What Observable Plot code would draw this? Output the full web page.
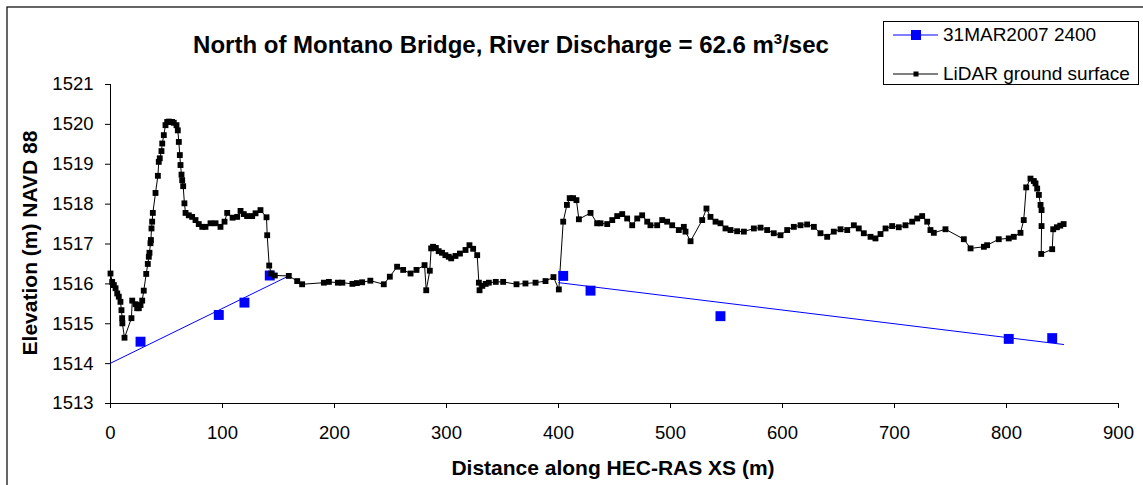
<!DOCTYPE html>
<html>
<head>
<meta charset="utf-8">
<script src="https://cdn.jsdelivr.net/npm/d3@7"></script>
<script src="https://cdn.jsdelivr.net/npm/@observablehq/plot@0.6"></script>
<style>
  html, body { margin: 0; padding: 0; background: #fff; overflow: hidden; }
  #chart svg { display: block; font-family: "Liberation Sans", Arial, sans-serif; }
</style>
</head>
<body>
<div id="chart"></div>
<script>
// ---- Data ----
const titleText = "North of Montano Bridge, River Discharge = 62.6 m";
const xLabel = "Distance along HEC-RAS XS (m)";
const yLabel = "Elevation (m) NAVD 88";
const seriesNames = ["31MAR2007 2400", "LiDAR ground surface"];
const xTicks = [0, 100, 200, 300, 400, 500, 600, 700, 800, 900];
const yTicks = [1513, 1514, 1515, 1516, 1517, 1518, 1519, 1520, 1521];

// LiDAR ground surface (distance, elevation)
const lidarX = [0, 1.5, 3, 4.5, 6, 7.4, 8.9, 9.8, 10.4, 10.6, 12.5, 18.7, 19.4, 22.3, 23.8, 25.3, 26.8, 28.3, 29.7, 31.9,
  33.3, 34.2, 34.8, 35.7, 36.1, 36.6, 37.2, 37.8, 40.2, 42.3, 43.1, 44.0, 45.5, 46.2, 47.6, 49.1, 50.6, 52.1, 53.6, 55.0,
  56.5, 58.9, 60.1, 61.0, 61.9, 62.5, 63.4, 64.0, 64.9, 66.0, 67.0, 69.9, 72.9, 75.9, 78.8, 81.9, 84.8, 89.3, 93.8, 98.2,
  101.8, 104.2, 109, 113.1, 116.1, 119.0, 122.0, 126.5, 129.5, 133.9, 139.3, 139.9, 141.7, 143.5, 146.7, 159.2, 166.7, 171.1, 190.5, 195.0,
  203.0, 207.0, 216.0, 220.0, 224.7, 232.0, 244.0, 249.4, 255.9, 261.3, 267.9, 273.2, 280.4, 281.9, 285.1, 286.3, 288.0, 290.5, 293, 296,
  299, 302, 304.2, 308, 312, 317, 320.5, 323.8, 327.4, 328.9, 329.5, 332, 335, 337.8, 344, 350.6, 362.5, 370.5, 379.5, 388.4,
  395.5, 400.3, 404.2, 407.5, 410, 413, 416, 418.2, 428.6, 434.5, 437.5, 443.5, 448, 452.4, 456.9, 461.3, 465.8, 470.3, 474.7, 479.2,
  482.1, 488.1, 492.6, 497, 501.5, 507.4, 511.9, 513.4, 517.9, 528.3, 532.1, 535.7, 540.2, 544.6, 549.1, 553.6, 559.5, 565.5, 574.4, 580.4,
  586.3, 592.2, 598.2, 604.2, 610.1, 616.1, 622, 628, 633.9, 639.9, 645.8, 651.8, 657.8, 663.7, 668.1, 672.6, 678.6, 683, 687.5, 692,
  697.9, 703.8, 709.8, 715.8, 720.3, 724.7, 729.2, 732.1, 735.1, 745.5, 761.9, 767.9, 779.8, 782.7, 793.1, 802, 806.5, 812.5, 815.4, 817.6,
  821.4, 824.4, 825.9, 827.4, 828.9, 830.4, 831.3, 831.3, 831.0, 840.8, 841.7, 845, 848, 851];
const lidarY = [1516.26, 1516.05, 1515.97, 1515.89, 1515.76, 1515.68, 1515.55, 1515.34, 1515.14, 1515.01, 1514.65, 1515.14, 1515.58, 1515.49, 1515.39, 1515.39, 1515.47, 1515.58, 1515.83, 1516.25,
  1516.5, 1516.68, 1516.78, 1517.02, 1517.1, 1517.39, 1517.56, 1517.78, 1518.28, 1518.71, 1519.06, 1519.15, 1519.33, 1519.52, 1519.73, 1519.98, 1520.06, 1520.07, 1520.06, 1520.06,
  1520.04, 1519.98, 1519.85, 1519.56, 1519.23, 1518.98, 1518.74, 1518.6, 1518.45, 1518.02, 1517.78, 1517.72, 1517.68, 1517.6, 1517.5, 1517.43, 1517.43, 1517.52, 1517.52, 1517.43,
  1517.56, 1517.78, 1517.66, 1517.68, 1517.83, 1517.75, 1517.7, 1517.7, 1517.77, 1517.85, 1517.67, 1517.22, 1516.46, 1516.26, 1516.21, 1516.2, 1516.07, 1515.99, 1516.03, 1516.05,
  1516.03, 1516.03, 1516.0, 1516.02, 1516.04, 1516.08, 1515.99, 1516.18, 1516.43, 1516.35, 1516.26, 1516.35, 1516.47, 1515.84, 1516.33, 1516.89, 1516.93, 1516.9, 1516.82, 1516.78,
  1516.72, 1516.68, 1516.64, 1516.7, 1516.76, 1516.85, 1516.97, 1516.88, 1516.72, 1516.03, 1515.84, 1515.95, 1516.0, 1516.03, 1516.05, 1516.05, 1515.99, 1516.01, 1516.03, 1516.07,
  1516.17, 1515.86, 1517.56, 1517.98, 1518.15, 1518.15, 1518.1, 1517.62, 1517.78, 1517.52, 1517.52, 1517.5, 1517.6, 1517.7, 1517.75, 1517.64, 1517.47, 1517.64, 1517.72, 1517.56,
  1517.47, 1517.47, 1517.6, 1517.56, 1517.47, 1517.35, 1517.43, 1517.31, 1517.07, 1517.6, 1517.89, 1517.68, 1517.56, 1517.52, 1517.39, 1517.35, 1517.32, 1517.31, 1517.39, 1517.41,
  1517.35, 1517.27, 1517.22, 1517.35, 1517.43, 1517.47, 1517.49, 1517.43, 1517.27, 1517.18, 1517.31, 1517.37, 1517.35, 1517.47, 1517.39, 1517.27, 1517.18, 1517.14, 1517.25, 1517.39,
  1517.45, 1517.42, 1517.47, 1517.56, 1517.64, 1517.7, 1517.56, 1517.35, 1517.28, 1517.37, 1517.12, 1516.89, 1516.93, 1516.97, 1517.12, 1517.14, 1517.18, 1517.28, 1517.6, 1518.42,
  1518.64, 1518.58, 1518.52, 1518.39, 1518.23, 1517.98, 1517.85, 1517.45, 1516.75, 1516.87, 1517.37, 1517.42, 1517.46, 1517.5];

// Water surface 31MAR2007 2400: observed points (markers)
const waterX = [26.8, 96.7, 119.6, 142.2, 404.2, 428.6, 544.6, 802, 840.8];
const waterY = [1514.55, 1515.22, 1515.53, 1516.21, 1516.2, 1515.83, 1515.19, 1514.62, 1514.64];
// Water surface line (two segments)
const waterLineX = [0, 159.2, 400.3, 851];
const waterLineY = [1514.01, 1516.2, 1516.03, 1514.48];
const waterLineSeg = ["a", "a", "b", "b"];

// ---- Build tables ----
const lidar = lidarX.map((x, i) => ({x, y: lidarY[i]}));
const water = waterX.map((x, i) => ({x, y: waterY[i]}));
const waterLine = waterLineX.map((x, i) => ({x, y: waterLineY[i], s: waterLineSeg[i]}));

const W = 1143, H = 485;
const blue = "#0000ff";

const chart = Plot.plot({
  width: W,
  height: H,
  marginLeft: 110,
  marginRight: 25,
  marginTop: 84,
  marginBottom: 82,
  style: {fontFamily: '"Liberation Sans", Arial, sans-serif', fontSize: "18.5px", color: "#000", background: "#fff", overflow: "visible"},
  x: {domain: [0, 900]},
  y: {domain: [1513, 1521]},
  marks: [
    Plot.axisX({ticks: xTicks, tickSize: 5, tickPadding: 17, tickFormat: d => String(d), label: null, stroke: "#000", strokeOpacity: 1, fill: "#000"}),
    Plot.axisY({ticks: yTicks, tickSize: 5, tickPadding: 12, tickFormat: d => String(d), label: null, stroke: "#000", strokeOpacity: 1, fill: "#000"}),
    Plot.ruleX([0], {stroke: "#000"}),
    Plot.ruleY([1513], {stroke: "#000"}),
    Plot.line(waterLine, {x: "x", y: "y", z: "s", stroke: blue, strokeWidth: 1, curve: "linear"}),
    Plot.line(lidar, {x: "x", y: "y", stroke: "#000", strokeWidth: 1, curve: "linear"}),
    Plot.dot(water, {x: "x", y: "y", symbol: "square", r: 5.6, fill: blue, stroke: "none"}),
    Plot.dot(lidar, {x: "x", y: "y", symbol: "square", r: 3.3, fill: "#000", stroke: "none"})
  ]
});

document.getElementById("chart").appendChild(chart);

// ---- Title, axis titles, legend, chart border ----
const svg = d3.select(chart);
const font = '"Liberation Sans", Arial, sans-serif';

svg.append("rect")
  .attr("x", 7).attr("y", 7).attr("width", 1300).attr("height", 1000)
  .attr("fill", "none").attr("stroke", "#000").attr("stroke-width", 1.2);

const t = svg.append("text")
  .attr("x", 511).attr("y", 53)
  .attr("text-anchor", "middle")
  .attr("font-family", font).attr("font-weight", "bold").attr("font-size", 24)
  .attr("fill", "#000");
t.append("tspan").text(titleText);
t.append("tspan").attr("dy", -9).attr("font-size", 15).text("3");
t.append("tspan").attr("dy", 9).text("/sec");

svg.append("text")
  .attr("x", 613).attr("y", 475)
  .attr("text-anchor", "middle")
  .attr("font-family", font).attr("font-weight", "bold").attr("font-size", 21)
  .attr("fill", "#000")
  .text(xLabel);

svg.append("text")
  .attr("transform", "translate(37,243) rotate(-90)")
  .attr("text-anchor", "middle")
  .attr("font-family", font).attr("font-weight", "bold").attr("font-size", 21)
  .attr("fill", "#000")
  .text(yLabel);

// Legend
const lg = svg.append("g");
lg.append("rect").attr("x", 883.5).attr("y", 21.5).attr("width", 255).attr("height", 63)
  .attr("fill", "#fff").attr("stroke", "#000").attr("stroke-width", 1);
const legendRows = [
  {name: seriesNames[0], color: blue, size: 10, y: 35},
  {name: seriesNames[1], color: "#000", size: 5, y: 74}
];
legendRows.forEach(r => {
  lg.append("line").attr("x1", 893).attr("x2", 938).attr("y1", r.y).attr("y2", r.y)
    .attr("stroke", r.color).attr("stroke-width", 1);
  lg.append("rect").attr("x", 916 - r.size / 2).attr("y", r.y - r.size / 2)
    .attr("width", r.size).attr("height", r.size).attr("fill", r.color);
  lg.append("text").attr("x", 943).attr("y", r.y + 5.5)
    .attr("text-anchor", "start")
    .attr("font-family", font).attr("font-size", 19).attr("fill", "#000")
    .text(r.name);
});
</script>
</body>
</html>
